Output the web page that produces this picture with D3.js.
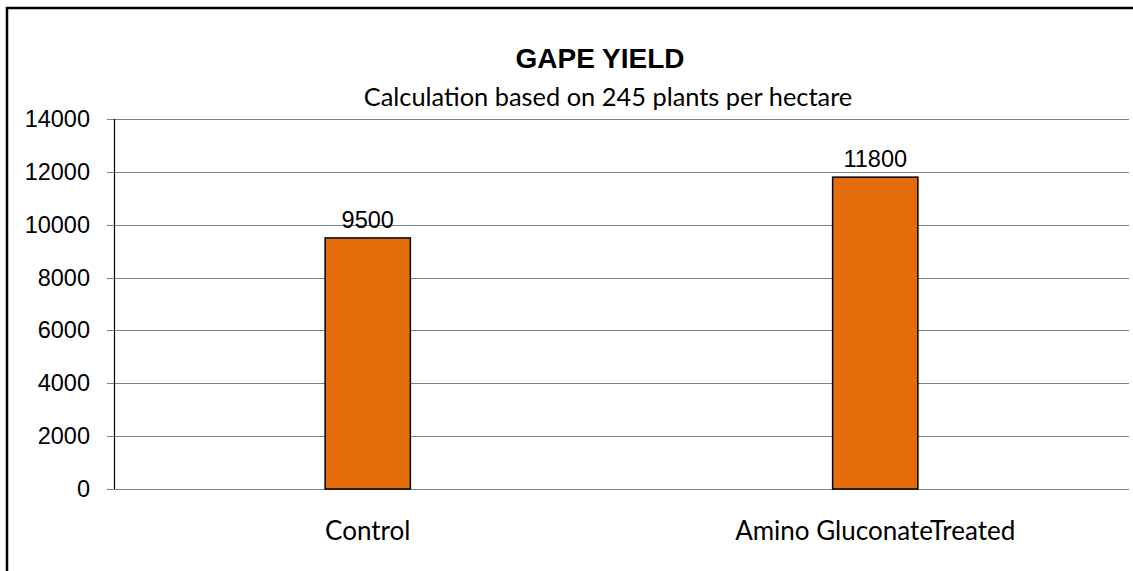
<!DOCTYPE html>
<html>
<head>
<meta charset="utf-8">
<script src="https://cdn.jsdelivr.net/npm/d3@7"></script>
<style>
  body { margin: 0; background: #fff; }
  svg { display: block; }
</style>
</head>
<body>
<div id="chart"></div>
<script>
// chart data
var categories = ["Control", "Amino GluconateTreated"],
    yields = [9500, 11800],
    yTicks = [0, 2000, 4000, 6000, 8000, 10000, 12000, 14000];

var titleText = "GAPE YIELD",
    subtitleText = "Calculation based on 245 plants per hectare";

// dimensions and margins of the graph
var W = 1133, H = 571;
var margin = { top: 119, right: 4, bottom: 82, left: 114 },
    width = W - margin.left - margin.right,
    height = H - margin.top - margin.bottom;

var svg = d3.select("#chart")
  .append("svg")
  .attr("width", W)
  .attr("height", H);

// outer frame (only top and left edges fall inside the picture)
svg.append("rect")
  .attr("x", 7)
  .attr("y", 8)
  .attr("width", W + 20)
  .attr("height", H + 20)
  .attr("fill", "none")
  .attr("stroke", "#000")
  .attr("stroke-width", 2.5);

var g = svg.append("g")
  .attr("transform", "translate(" + margin.left + "," + margin.top + ")");

// scales
var x = d3.scaleBand()
  .domain(categories)
  .range([0, width])
  .paddingInner(0.832)
  .paddingOuter(0.416);

var y = d3.scaleLinear()
  .domain([0, 14000])
  .range([height, 0]);

// gridlines + tick marks
g.append("g")
  .selectAll("line")
  .data(yTicks)
  .enter()
  .append("line")
  .attr("x1", -7)
  .attr("x2", width)
  .attr("y1", function(d) { return Math.round(y(d)) + 0.5; })
  .attr("y2", function(d) { return Math.round(y(d)) + 0.5; })
  .attr("stroke", "#808080")
  .attr("stroke-width", 1.2);

// Y axis labels
var yAxis = g.append("g")
  .call(d3.axisLeft(y).tickValues(yTicks).tickSize(0).tickPadding(24).tickFormat(d3.format("d")));
yAxis.select(".domain").remove();
yAxis.selectAll("text")
  .attr("font-family", "'Liberation Sans', Arial, sans-serif")
  .attr("font-size", "23.5px")
  .attr("fill", "#000");

// vertical axis line
g.append("line")
  .attr("x1", 0.5)
  .attr("x2", 0.5)
  .attr("y1", 0)
  .attr("y2", height)
  .attr("stroke", "#000")
  .attr("stroke-width", 1.2);

// bars
g.append("g")
  .selectAll("rect")
  .data(yields)
  .enter()
  .append("rect")
  .attr("x", function(d, i) { return x(categories[i]); })
  .attr("y", function(d) { return y(d); })
  .attr("width", x.bandwidth())
  .attr("height", function(d) { return height - y(d); })
  .attr("fill", "#E46C0A")
  .attr("stroke", "#000")
  .attr("stroke-width", 1.5);

// value labels
g.append("g")
  .selectAll("text")
  .data(yields)
  .enter()
  .append("text")
  .attr("x", function(d, i) { return x(categories[i]) + x.bandwidth() / 2; })
  .attr("y", function(d) { return y(d) - 10; })
  .attr("text-anchor", "middle")
  .attr("font-family", "'Liberation Sans', Arial, sans-serif")
  .attr("font-size", "23.5px")
  .text(function(d) { return d; });

// category labels
g.append("g")
  .selectAll("text")
  .data(categories)
  .enter()
  .append("text")
  .attr("x", function(d) { return x(d) + x.bandwidth() / 2; })
  .attr("y", height + 51)
  .attr("text-anchor", "middle")
  .attr("font-family", "Lato, 'Open Sans', sans-serif")
  .attr("font-size", "26px")
  .text(function(d) { return d; });

// title + subtitle
svg.append("text")
  .attr("x", 600)
  .attr("y", 68)
  .attr("text-anchor", "middle")
  .attr("font-family", "'Liberation Sans', Arial, sans-serif")
  .attr("font-weight", "bold")
  .attr("font-size", "28px")
  .text(titleText);

svg.append("text")
  .attr("x", 608)
  .attr("y", 106)
  .attr("text-anchor", "middle")
  .attr("font-family", "Lato, 'Open Sans', sans-serif")
  .attr("font-size", "25.4px")
  .text(subtitleText);
</script>
</body>
</html>
